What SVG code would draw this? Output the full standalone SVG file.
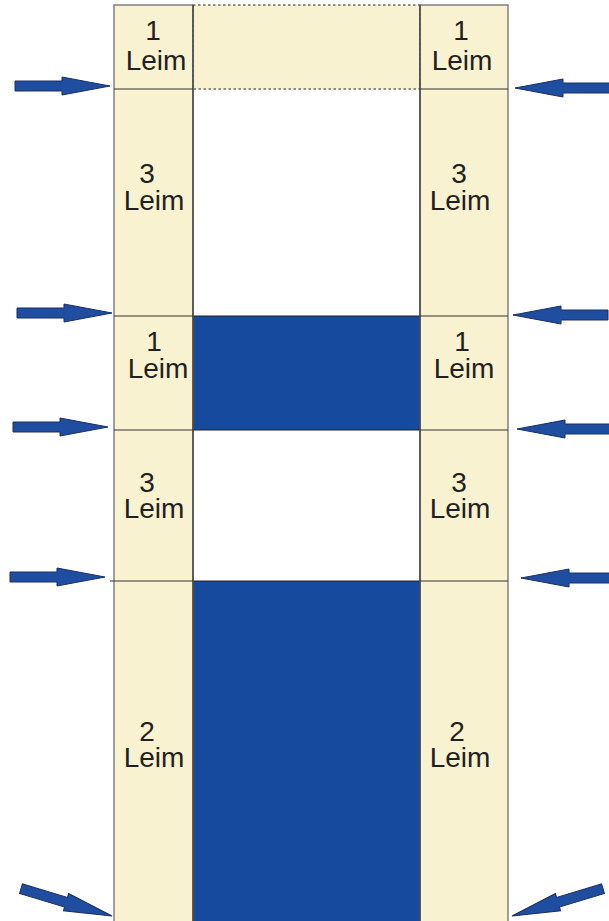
<svg xmlns="http://www.w3.org/2000/svg" width="609" height="921" viewBox="0 0 609 921">
<style>
.col{fill:#f8f2d0;stroke:#808080;stroke-width:1.5}
.sep{stroke:#333;stroke-width:1.2}
.blue{fill:#154a9e;stroke:#222;stroke-width:1}
.arr{fill:#1f4d9f;stroke:#1a2f66;stroke-width:1}
text{font-family:"Liberation Sans",Arial,sans-serif;font-size:28px;fill:#231f20;text-anchor:middle}
</style>
<defs>
<path id="ar" d="M0,0 L-48,-9 L-48,-5 L-95,-5 L-95,5 L-48,5 L-48,9 Z"/>
</defs>
<g id="top-gap">
<rect x="193" y="5" width="227" height="84" fill="#f8f2d0" stroke="#222" stroke-width="1.2" stroke-dasharray="2.5,2.5"/>
</g>
<g id="blue-1"><rect class="blue" x="193" y="316" width="227" height="114"/></g>
<g id="blue-2"><rect class="blue" x="193" y="581" width="227" height="345"/></g>
<g id="left-column">
<rect class="col" x="114" y="5" width="79" height="920"/>
<line class="sep" x1="114" y1="89" x2="193" y2="89"/>
<line class="sep" x1="114" y1="316" x2="193" y2="316"/>
<line class="sep" x1="114" y1="430" x2="193" y2="430"/>
<line class="sep" x1="110" y1="581" x2="193" y2="581"/>
<line x1="193" y1="5" x2="193" y2="921" stroke="#333" stroke-width="1.2"/>
</g>
<g id="right-column">
<rect class="col" x="420" y="5" width="88" height="920"/>
<line class="sep" x1="420" y1="89" x2="508" y2="89"/>
<line class="sep" x1="420" y1="316" x2="508" y2="316"/>
<line class="sep" x1="420" y1="430" x2="508" y2="430"/>
<line class="sep" x1="420" y1="581" x2="508" y2="581"/>
<line x1="420" y1="5" x2="420" y2="921" stroke="#333" stroke-width="1.2"/>
</g>
<g id="labels-left">
<text x="153" y="40">1</text><text x="156" y="70">Leim</text>
<text x="147" y="183">3</text><text x="154" y="210">Leim</text>
<text x="154" y="351">1</text><text x="158" y="378">Leim</text>
<text x="147" y="492">3</text><text x="154" y="518">Leim</text>
<text x="147" y="741">2</text><text x="154" y="767">Leim</text>
</g>
<g id="labels-right">
<text x="461" y="40">1</text><text x="462" y="70">Leim</text>
<text x="459" y="183">3</text><text x="460" y="210">Leim</text>
<text x="462" y="351">1</text><text x="464" y="378">Leim</text>
<text x="459" y="492">3</text><text x="460" y="518">Leim</text>
<text x="457" y="741">2</text><text x="460" y="767">Leim</text>
</g>
<g id="connectors">
<use href="#ar" class="arr" transform="translate(110,86)"/>
<use href="#ar" class="arr" transform="translate(112,313)"/>
<use href="#ar" class="arr" transform="translate(108,427)"/>
<use href="#ar" class="arr" transform="translate(105,577)"/>
<use href="#ar" class="arr" transform="translate(112,916) rotate(16.7)"/>
<use href="#ar" class="arr" transform="translate(515,88) scale(-1,1)"/>
<use href="#ar" class="arr" transform="translate(513,315) scale(-1,1)"/>
<use href="#ar" class="arr" transform="translate(517,429) scale(-1,1)"/>
<use href="#ar" class="arr" transform="translate(521,578) scale(-1,1)"/>
<use href="#ar" class="arr" transform="translate(512,916) rotate(-16.7) scale(-1,1)"/>
</g>
</svg>
